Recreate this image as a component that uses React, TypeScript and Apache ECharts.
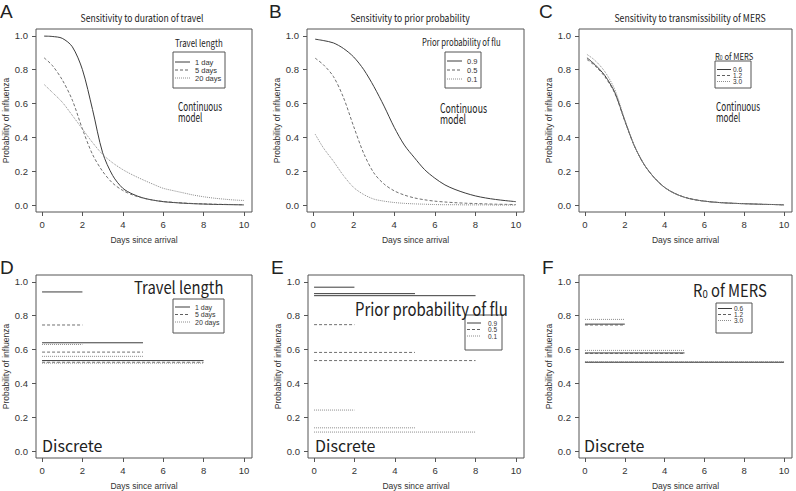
import React, { useEffect, useRef } from "react";
import * as echarts from "echarts";

// ---------- data ----------
const days = [0.1, 0.5, 1, 1.5, 2, 2.5, 3, 3.5, 4, 4.5, 5, 5.5, 6, 6.5, 7, 7.5, 8, 8.5, 9, 9.5, 10];
const xTicks = [0, 2, 4, 6, 8, 10];
const yTicks = [0, 0.2, 0.4, 0.6, 0.8, 1.0];

// A: sensitivity to duration of travel
const travel1Day = [0.998, 0.996, 0.985, 0.935, 0.8, 0.565, 0.31, 0.175, 0.1, 0.065, 0.043, 0.03, 0.021, 0.016, 0.012, 0.009, 0.007, 0.005, 0.004, 0.003, 0.002];
const travel5Days = [0.87, 0.826, 0.74, 0.62, 0.45, 0.3, 0.2, 0.13, 0.087, 0.06, 0.042, 0.03, 0.022, 0.017, 0.013, 0.01, 0.008, 0.006, 0.005, 0.004, 0.003];
const travel20Days = [0.713, 0.667, 0.608, 0.53, 0.45, 0.37, 0.3, 0.25, 0.21, 0.178, 0.15, 0.124, 0.1, 0.086, 0.073, 0.06, 0.05, 0.042, 0.036, 0.031, 0.028];

// B: sensitivity to prior probability
const prior09 = [0.98, 0.972, 0.958, 0.925, 0.875, 0.8, 0.7, 0.585, 0.46, 0.355, 0.28, 0.21, 0.16, 0.12, 0.093, 0.072, 0.055, 0.043, 0.034, 0.027, 0.021];
const prior05 = [0.868, 0.83, 0.76, 0.635, 0.465, 0.305, 0.19, 0.125, 0.085, 0.06, 0.043, 0.032, 0.024, 0.019, 0.015, 0.012, 0.01, 0.008, 0.006, 0.005, 0.004];
const prior01 = [0.42, 0.34, 0.26, 0.175, 0.105, 0.063, 0.036, 0.024, 0.016, 0.011, 0.008, 0.006, 0.004, 0.003, 0.003, 0.002, 0.002, 0.002, 0.001, 0.001, 0.001];

// C: sensitivity to transmissibility of MERS
const r06 = [0.87, 0.83, 0.765, 0.665, 0.5, 0.345, 0.235, 0.16, 0.105, 0.07, 0.047, 0.033, 0.024, 0.018, 0.014, 0.011, 0.009, 0.007, 0.005, 0.004, 0.002];
const r12 = [0.86, 0.823, 0.758, 0.66, 0.497, 0.345, 0.235, 0.16, 0.105, 0.07, 0.047, 0.033, 0.024, 0.018, 0.014, 0.011, 0.009, 0.007, 0.005, 0.004, 0.002];
const r30 = [0.89, 0.855, 0.788, 0.682, 0.505, 0.347, 0.236, 0.16, 0.105, 0.07, 0.047, 0.033, 0.024, 0.018, 0.014, 0.011, 0.009, 0.007, 0.005, 0.004, 0.002];

// Discrete models: each value is a horizontal segment from day 0 to the matching end
const segEnds = [2, 5, 8];
const mersEnds = [2, 5, 10];
const discTravel1Day = [0.94, 0.64, 0.535];
const discTravel5Days = [0.745, 0.585, 0.525];
const discTravel20Days = [0.63, 0.56, 0.52];
const discPrior09 = [0.968, 0.93, 0.918];
const discPrior05 = [0.747, 0.583, 0.535];
const discPrior01 = [0.243, 0.138, 0.113];
const discR06 = [0.75, 0.58, 0.525];
const discR12 = [0.745, 0.577, 0.525];
const discR30 = [0.778, 0.595, 0.528];

const travelLabels = ["1 day", "5 days", "20 days"];
const priorLabels = ["0.9", "0.5", "0.1"];
const mersLabels = ["0.6", "1.2", "3.0"];

// ---------- styling ----------
const LINE_STYLES = [
  { color: "#3c3c3c", dash: null as number[] | null, width: 1 },
  { color: "#606060", dash: [3, 2], width: 0.9 },
  { color: "#8c8c8c", dash: [1, 1], width: 1 },
];
const AX_FONT = "Liberation Sans, Arial, sans-serif";
const TXT_FONT = "Noto Sans CJK JP, Noto Sans, sans-serif";

const GRIDS = [
  { left: 36, top: 29, width: 216, height: 183 },
  { left: 307, top: 29, width: 217, height: 183 },
  { left: 579, top: 29, width: 213, height: 183 },
  { left: 36, top: 275, width: 216, height: 183 },
  { left: 308, top: 275, width: 216, height: 183 },
  { left: 579, top: 275, width: 213, height: 183 },
];

function lineStyleOf(i: number) {
  const s = LINE_STYLES[i];
  return { color: s.color, width: s.width, type: s.dash ? s.dash : "solid" };
}

function curveSeries(grid: number, idx: number, vals: number[]) {
  return {
    type: "line",
    xAxisIndex: grid,
    yAxisIndex: grid,
    data: days.map((d, k) => [d, vals[k]]),
    showSymbol: false,
    smooth: 0.3,
    lineStyle: lineStyleOf(idx),
    silent: true,
  };
}

function segmentSeries(grid: number, idx: number, vals: number[], ends: number[]) {
  return vals.map((v, k) => ({
    type: "line",
    xAxisIndex: grid,
    yAxisIndex: grid,
    data: [
      [0, v],
      [ends[k], v],
    ],
    showSymbol: false,
    lineStyle: lineStyleOf(idx),
    silent: true,
  }));
}

function legendBox(
  x: number,
  y: number,
  w: number,
  h: number,
  labels: string[],
  rowYs: number[],
  sx1: number,
  sx2: number,
  tx: number,
  fs: number
) {
  const els: any[] = [
    {
      type: "rect",
      shape: { x, y, width: w, height: h },
      style: { fill: "#fff", stroke: "#555", lineWidth: 1 },
      z: 100,
    },
  ];
  labels.forEach((lab, i) => {
    const s = LINE_STYLES[i];
    els.push({
      type: "line",
      shape: { x1: sx1, y1: rowYs[i], x2: sx2, y2: rowYs[i] },
      style: { stroke: s.color, lineWidth: 1, lineDash: s.dash || undefined },
      z: 101,
    });
    els.push({
      type: "text",
      x: tx,
      y: rowYs[i],
      style: {
        text: lab,
        fill: "#333",
        font: `${fs}px ${AX_FONT}`,
        lineHeight: fs - 1,
        verticalAlign: "middle",
        textAlign: "left",
      },
      z: 101,
    });
  });
  return els;
}

function txt(text: string, x: number, y: number, fs: number, sx = 1, align = "left", family = TXT_FONT) {
  return {
    type: "text",
    x,
    y,
    scaleX: sx,
    style: {
      text,
      fill: "#222",
      font: `${fs}px ${family}`,
      textAlign: align,
      verticalAlign: "middle",
    },
    z: 102,
  };
}

function r0Text(x: number, y: number, fs: number, sx: number) {
  return {
    type: "text",
    x,
    y,
    scaleX: sx,
    style: {
      text: "{a|R}{b|0}{a| of MERS}",
      rich: {
        a: { fontSize: fs, lineHeight: fs * 1.2, fontFamily: TXT_FONT, fill: "#222", verticalAlign: "bottom" },
        b: {
          fontSize: Math.round(fs * 0.62),
          lineHeight: fs * 1.05,
          fontFamily: TXT_FONT,
          fill: "#222",
          verticalAlign: "bottom",
        },
      },
      verticalAlign: "middle",
      textAlign: "left",
    },
    z: 102,
  };
}

export default function App() {
  const ref = useRef<HTMLDivElement>(null);

  useEffect(() => {
    if (!ref.current) return;
    const chart = echarts.init(ref.current, undefined, { renderer: "svg" });

    const xAxes = GRIDS.map((_, i) => ({
      type: "value",
      gridIndex: i,
      position: "bottom",
      min: -0.3,
      max: 10.4,
      axisLine: { show: false, onZero: false },
      axisTick: { show: true, inside: false, length: 4, customValues: xTicks, lineStyle: { color: "#555" } },
      axisLabel: {
        customValues: xTicks,
        color: "#333",
        fontSize: 9.5,
        fontFamily: AX_FONT,
        margin: 7,
      },
      splitLine: { show: false },
      name: "Days since arrival",
      nameLocation: "middle",
      nameGap: 23,
      nameTextStyle: { fontSize: 8.5, fontFamily: AX_FONT, color: "#333" },
    }));

    const yAxes = GRIDS.map((_, i) => ({
      type: "value",
      gridIndex: i,
      position: "left",
      min: -0.04,
      max: 1.04,
      axisLine: { show: false, onZero: false },
      axisTick: { show: true, inside: false, length: 4, customValues: yTicks, lineStyle: { color: "#555" } },
      axisLabel: {
        customValues: yTicks,
        formatter: (v: number) => v.toFixed(1),
        color: "#333",
        fontSize: 9.5,
        fontFamily: AX_FONT,
        margin: 8,
      },
      splitLine: { show: false },
      name: "Probability of influenza",
      nameLocation: "middle",
      nameGap: 24,
      nameRotate: 90,
      nameTextStyle: { fontSize: 8.5, fontFamily: AX_FONT, color: "#333" },
    }));

    const series: any[] = [
      curveSeries(0, 0, travel1Day),
      curveSeries(0, 1, travel5Days),
      curveSeries(0, 2, travel20Days),
      curveSeries(1, 0, prior09),
      curveSeries(1, 1, prior05),
      curveSeries(1, 2, prior01),
      curveSeries(2, 0, r06),
      curveSeries(2, 1, r12),
      curveSeries(2, 2, r30),
      ...segmentSeries(3, 0, discTravel1Day, segEnds),
      ...segmentSeries(3, 1, discTravel5Days, segEnds),
      ...segmentSeries(3, 2, discTravel20Days, segEnds),
      ...segmentSeries(4, 0, discPrior09, segEnds),
      ...segmentSeries(4, 1, discPrior05, segEnds),
      ...segmentSeries(4, 2, discPrior01, segEnds),
      ...segmentSeries(5, 0, discR06, mersEnds),
      ...segmentSeries(5, 1, discR12, mersEnds),
      ...segmentSeries(5, 2, discR30, mersEnds),
    ];

    const LETTER_FONT = "Liberation Sans, Arial, sans-serif";
    const graphics: any[] = [
      // panel letters
      txt("A", 0, 11, 19, 1, "left", LETTER_FONT),
      txt("B", 269, 11, 19, 1, "left", LETTER_FONT),
      txt("C", 539, 11, 19, 1, "left", LETTER_FONT),
      txt("D", 0, 267, 19, 1, "left", LETTER_FONT),
      txt("E", 271, 267, 19, 1, "left", LETTER_FONT),
      txt("F", 542, 267, 19, 1, "left", LETTER_FONT),
      // titles
      txt("Sensitivity to duration of travel", 142, 18, 10, 0.86, "center"),
      txt("Sensitivity to prior probability", 410, 18, 10, 0.86, "center"),
      txt("Sensitivity to transmissibility of MERS", 690, 18, 10, 0.87, "center"),
      // A annotations
      txt("Travel length", 175, 43, 10, 0.79),
      ...legendBox(173, 52, 52, 36, travelLabels, [62, 70, 78], 175, 190, 195, 7.5),
      txt("Continuous", 178, 106, 12, 0.68),
      txt("model", 178, 117, 12, 0.68),
      // B annotations
      txt("Prior probability of flu", 422, 42, 10, 0.77),
      ...legendBox(445, 52, 36, 36, priorLabels, [61, 70, 79], 447, 462, 467, 7.5),
      txt("Continuous", 440, 107, 13, 0.67),
      txt("model", 440, 118, 13, 0.67),
      // C annotations
      r0Text(715, 55, 9, 0.85),
      ...legendBox(715, 61, 36, 27, mersLabels, [69.5, 75.5, 81.5], 717, 731, 733, 6.5),
      txt("Continuous", 716, 106, 12, 0.68),
      txt("model", 716, 117, 12, 0.68),
      // D annotations
      txt("Travel length", 134, 287, 17, 0.87),
      ...legendBox(173, 299, 51, 34, travelLabels, [307, 314.5, 322], 175, 190, 195, 7),
      txt("Discrete", 42, 445, 16),
      // E annotations
      txt("Prior probability of flu", 355, 308, 18, 0.83),
      ...legendBox(465, 315, 37, 35, priorLabels, [323, 329.5, 336], 467, 481, 488, 6.5),
      txt("Discrete", 315, 445, 16),
      // F annotations
      r0Text(693, 288, 17, 0.87),
      ...legendBox(716, 303, 36, 30, mersLabels, [308.5, 314.5, 320.5], 718, 732, 734, 6.5),
      txt("Discrete", 584, 445, 16),
    ];

    chart.setOption({
      animation: false,
      backgroundColor: "#fff",
      grid: GRIDS.map((g) => ({
        ...g,
        show: true,
        borderColor: "#555",
        borderWidth: 1,
        backgroundColor: "transparent",
        containLabel: false,
      })),
      xAxis: xAxes,
      yAxis: yAxes,
      series,
      graphic: graphics,
    });

    return () => chart.dispose();
  }, []);

  return (
    <div
      ref={ref}
      style={{ position: "fixed", left: 0, top: 0, width: 796, height: 491, background: "#fff" }}
    />
  );
}
